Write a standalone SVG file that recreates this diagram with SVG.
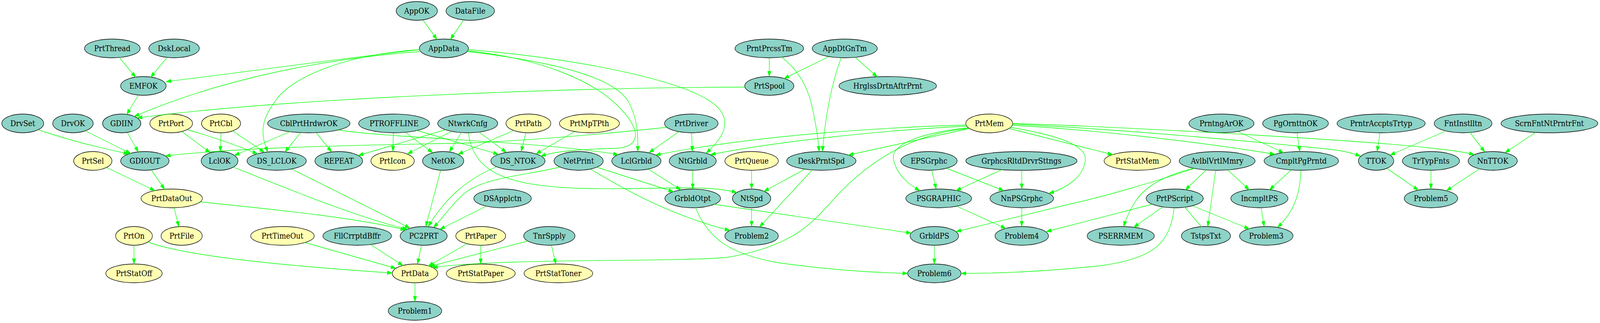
<svg xmlns="http://www.w3.org/2000/svg" width="4430" height="827" viewBox="0 0 4430 827">
<style>
.n ellipse{stroke:#000;stroke-width:1.33}
.t ellipse{fill:#8dd3c7}
.y ellipse{fill:#ffffb3}
.n text{font-family:"DejaVu Serif","Liberation Serif",serif;font-size:19.5px;text-anchor:middle;fill:#000}
#edges path{fill:none;stroke:#00ff00;stroke-width:1.33;marker-end:url(#a)}
#edges path.na{marker-end:none}
</style>
<defs>
<marker id="a" markerUnits="userSpaceOnUse" markerWidth="14" markerHeight="10" refX="13.3" refY="4.67" orient="auto" viewBox="0 0 13.3 9.33">
<path d="M0,0 L13.3,4.67 L0,9.33 z" fill="#00ff00" stroke="#00ff00" stroke-width="0.8"/>
</marker>
</defs>
<rect width="4430" height="827" fill="#fff"/>
<g id="diagram" transform="scale(0.9246 1)">
<g id="nodes">
<g id="AppOK" class="n t"><ellipse cx="1154" cy="28" rx="57" ry="24"/><text x="1154" y="35">AppOK</text></g>
<g id="DataFile" class="n t"><ellipse cx="1302" cy="28" rx="67" ry="24"/><text x="1302" y="35">DataFile</text></g>
<g id="PrtThread" class="n t"><ellipse cx="311" cy="124" rx="77" ry="24"/><text x="311" y="131">PrtThread</text></g>
<g id="DskLocal" class="n t"><ellipse cx="482" cy="124" rx="70" ry="24"/><text x="482" y="131">DskLocal</text></g>
<g id="AppData" class="n t"><ellipse cx="1229" cy="124" rx="68" ry="24"/><text x="1229" y="131">AppData</text></g>
<g id="PrntPrcssTm" class="n t"><ellipse cx="2130" cy="124" rx="95" ry="24"/><text x="2130" y="131">PrntPrcssTm</text></g>
<g id="AppDtGnTm" class="n t"><ellipse cx="2339" cy="124" rx="90" ry="24"/><text x="2339" y="131">AppDtGnTm</text></g>
<g id="EMFOK" class="n t"><ellipse cx="397" cy="220" rx="63" ry="24"/><text x="397" y="227">EMFOK</text></g>
<g id="PrtSpool" class="n t"><ellipse cx="2130" cy="220" rx="68" ry="24"/><text x="2130" y="227">PrtSpool</text></g>
<g id="HrglssDrtnAftrPrnt" class="n t"><ellipse cx="2458" cy="220" rx="135" ry="24"/><text x="2458" y="227">HrglssDrtnAftrPrnt</text></g>
<g id="DrvSet" class="n t"><ellipse cx="63" cy="316" rx="58" ry="24"/><text x="63" y="323">DrvSet</text></g>
<g id="DrvOK" class="n t"><ellipse cx="202" cy="316" rx="56" ry="24"/><text x="202" y="323">DrvOK</text></g>
<g id="GDIIN" class="n t"><ellipse cx="337" cy="316" rx="53" ry="24"/><text x="337" y="323">GDIIN</text></g>
<g id="PrtPort" class="n y"><ellipse cx="474" cy="316" rx="59" ry="24"/><text x="474" y="323">PrtPort</text></g>
<g id="PrtCbl" class="n y"><ellipse cx="612" cy="316" rx="54" ry="24"/><text x="612" y="323">PrtCbl</text></g>
<g id="CblPrtHrdwrOK" class="n t"><ellipse cx="855" cy="316" rx="114" ry="24"/><text x="855" y="323">CblPrtHrdwrOK</text></g>
<g id="PTROFFLINE" class="n t"><ellipse cx="1091" cy="316" rx="98" ry="24"/><text x="1091" y="323">PTROFFLINE</text></g>
<g id="NtwrkCnfg" class="n t"><ellipse cx="1295" cy="316" rx="83" ry="24"/><text x="1295" y="323">NtwrkCnfg</text></g>
<g id="PrtPath" class="n y"><ellipse cx="1463" cy="316" rx="62" ry="24"/><text x="1463" y="323">PrtPath</text></g>
<g id="PrtMpTPth" class="n y"><ellipse cx="1632" cy="316" rx="83" ry="24"/><text x="1632" y="323">PrtMpTPth</text></g>
<g id="PrtDriver" class="n t"><ellipse cx="1914" cy="316" rx="74" ry="24"/><text x="1914" y="323">PrtDriver</text></g>
<g id="PrtMem" class="n y"><ellipse cx="2739" cy="316" rx="65" ry="24"/><text x="2739" y="323">PrtMem</text></g>
<g id="PrntngArOK" class="n t"><ellipse cx="3382" cy="316" rx="90" ry="24"/><text x="3382" y="323">PrntngArOK</text></g>
<g id="PgOrnttnOK" class="n t"><ellipse cx="3587" cy="316" rx="91" ry="24"/><text x="3587" y="323">PgOrnttnOK</text></g>
<g id="PrntrAccptsTrtyp" class="n t"><ellipse cx="3824" cy="316" rx="122" ry="24"/><text x="3824" y="323">PrntrAccptsTrtyp</text></g>
<g id="FntInstlltn" class="n t"><ellipse cx="4051" cy="316" rx="80" ry="24"/><text x="4051" y="323">FntInstlltn</text></g>
<g id="ScrnFntNtPrntrFnt" class="n t"><ellipse cx="4290" cy="316" rx="134" ry="24"/><text x="4290" y="323">ScrnFntNtPrntrFnt</text></g>
<g id="PrtSel" class="n y"><ellipse cx="257" cy="412" rx="53" ry="24"/><text x="257" y="419">PrtSel</text></g>
<g id="GDIOUT" class="n t"><ellipse cx="401" cy="412" rx="67" ry="24"/><text x="401" y="419">GDIOUT</text></g>
<g id="LclOK" class="n t"><ellipse cx="608" cy="412" rx="51" ry="24"/><text x="608" y="419">LclOK</text></g>
<g id="DS_LCLOK" class="n t"><ellipse cx="766" cy="412" rx="82" ry="24"/><text x="766" y="419">DS_LCLOK</text></g>
<g id="REPEAT" class="n t"><ellipse cx="938" cy="412" rx="66" ry="24"/><text x="938" y="419">REPEAT</text></g>
<g id="PrtIcon" class="n y"><ellipse cx="1087" cy="412" rx="60" ry="24"/><text x="1087" y="419">PrtIcon</text></g>
<g id="NetOK" class="n t"><ellipse cx="1227" cy="412" rx="57" ry="24"/><text x="1227" y="419">NetOK</text></g>
<g id="DS_NTOK" class="n t"><ellipse cx="1434" cy="412" rx="75" ry="24"/><text x="1434" y="419">DS_NTOK</text></g>
<g id="NetPrint" class="n t"><ellipse cx="1602" cy="412" rx="68" ry="24"/><text x="1602" y="419">NetPrint</text></g>
<g id="LclGrbld" class="n t"><ellipse cx="1762" cy="412" rx="68" ry="24"/><text x="1762" y="419">LclGrbld</text></g>
<g id="NtGrbld" class="n t"><ellipse cx="1918" cy="412" rx="65" ry="24"/><text x="1918" y="419">NtGrbld</text></g>
<g id="PrtQueue" class="n y"><ellipse cx="2081" cy="412" rx="74" ry="24"/><text x="2081" y="419">PrtQueue</text></g>
<g id="DeskPrntSpd" class="n t"><ellipse cx="2274" cy="412" rx="96" ry="24"/><text x="2274" y="419">DeskPrntSpd</text></g>
<g id="EPSGrphc" class="n t"><ellipse cx="2572" cy="412" rx="78" ry="24"/><text x="2572" y="419">EPSGrphc</text></g>
<g id="GrphcsRltdDrvrSttngs" class="n t"><ellipse cx="2828" cy="412" rx="154" ry="24"/><text x="2828" y="419">GrphcsRltdDrvrSttngs</text></g>
<g id="PrtStatMem" class="n y"><ellipse cx="3149" cy="412" rx="92" ry="24"/><text x="3149" y="419">PrtStatMem</text></g>
<g id="AvlblVrtlMmry" class="n t"><ellipse cx="3370" cy="412" rx="105" ry="24"/><text x="3370" y="419">AvlblVrtlMmry</text></g>
<g id="CmpltPgPrntd" class="n t"><ellipse cx="3603" cy="412" rx="103" ry="24"/><text x="3603" y="419">CmpltPgPrntd</text></g>
<g id="TTOK" class="n t"><ellipse cx="3810" cy="412" rx="49" ry="24"/><text x="3810" y="419">TTOK</text></g>
<g id="TrTypFnts" class="n t"><ellipse cx="3962" cy="412" rx="79" ry="24"/><text x="3962" y="419">TrTypFnts</text></g>
<g id="NnTTOK" class="n t"><ellipse cx="4133" cy="412" rx="68" ry="24"/><text x="4133" y="419">NnTTOK</text></g>
<g id="PrtDataOut" class="n y"><ellipse cx="475.5" cy="508" rx="85" ry="24"/><text x="475.5" y="515">PrtDataOut</text></g>
<g id="DSApplctn" class="n t"><ellipse cx="1391.5" cy="508" rx="79.5" ry="24"/><text x="1391.5" y="515">DSApplctn</text></g>
<g id="GrbldOtpt" class="n t"><ellipse cx="1918" cy="508" rx="77" ry="24"/><text x="1918" y="515">GrbldOtpt</text></g>
<g id="NtSpd" class="n t"><ellipse cx="2081" cy="508" rx="53" ry="24"/><text x="2081" y="515">NtSpd</text></g>
<g id="PSGRAPHIC" class="n t"><ellipse cx="2599" cy="508" rx="91" ry="24"/><text x="2599" y="515">PSGRAPHIC</text></g>
<g id="NnPSGrphc" class="n t"><ellipse cx="2829" cy="508" rx="88" ry="24"/><text x="2829" y="515">NnPSGrphc</text></g>
<g id="PrtPScript" class="n t"><ellipse cx="3252.5" cy="508" rx="79" ry="24"/><text x="3252.5" y="515">PrtPScript</text></g>
<g id="IncmpltPS" class="n t"><ellipse cx="3487" cy="508" rx="79" ry="24"/><text x="3487" y="515">IncmpltPS</text></g>
<g id="Problem5" class="n t"><ellipse cx="3962" cy="508" rx="74" ry="24"/><text x="3962" y="515">Problem5</text></g>
<g id="PrtOn" class="n y"><ellipse cx="371" cy="604" rx="51" ry="24"/><text x="371" y="611">PrtOn</text></g>
<g id="PrtFile" class="n y"><ellipse cx="503" cy="604" rx="57" ry="24"/><text x="503" y="611">PrtFile</text></g>
<g id="PrtTimeOut" class="n y"><ellipse cx="782" cy="604" rx="88" ry="24"/><text x="782" y="611">PrtTimeOut</text></g>
<g id="FllCrrptdBffr" class="n t"><ellipse cx="989" cy="604" rx="95" ry="24"/><text x="989" y="611">FllCrrptdBffr</text></g>
<g id="PC2PRT" class="n t"><ellipse cx="1173" cy="604" rx="65" ry="24"/><text x="1173" y="611">PC2PRT</text></g>
<g id="PrtPaper" class="n y"><ellipse cx="1331" cy="604" rx="69" ry="24"/><text x="1331" y="611">PrtPaper</text></g>
<g id="TnrSpply" class="n t"><ellipse cx="1521" cy="604" rx="71" ry="24"/><text x="1521" y="611">TnrSpply</text></g>
<g id="Problem2" class="n t"><ellipse cx="2081" cy="604" rx="74" ry="24"/><text x="2081" y="611">Problem2</text></g>
<g id="GrbldPS" class="n t"><ellipse cx="2587" cy="604" rx="67" ry="24"/><text x="2587" y="611">GrbldPS</text></g>
<g id="Problem4" class="n t"><ellipse cx="2829" cy="604" rx="74" ry="24"/><text x="2829" y="611">Problem4</text></g>
<g id="PSERRMEM" class="n t"><ellipse cx="3103" cy="604" rx="93" ry="24"/><text x="3103" y="611">PSERRMEM</text></g>
<g id="TstpsTxt" class="n t"><ellipse cx="3339" cy="604" rx="68" ry="24"/><text x="3339" y="611">TstpsTxt</text></g>
<g id="Problem3" class="n t"><ellipse cx="3506" cy="604" rx="74" ry="24"/><text x="3506" y="611">Problem3</text></g>
<g id="PrtStatOff" class="n y"><ellipse cx="371" cy="700" rx="78" ry="24"/><text x="371" y="707">PrtStatOff</text></g>
<g id="PrtData" class="n y"><ellipse cx="1149" cy="700" rx="63" ry="24"/><text x="1149" y="707">PrtData</text></g>
<g id="PrtStatPaper" class="n y"><ellipse cx="1331" cy="700" rx="95.5" ry="24"/><text x="1331" y="707">PrtStatPaper</text></g>
<g id="PrtStatToner" class="n y"><ellipse cx="1546" cy="700" rx="95" ry="24"/><text x="1546" y="707">PrtStatToner</text></g>
<g id="Problem6" class="n t"><ellipse cx="2587" cy="700" rx="74" ry="24"/><text x="2587" y="707">Problem6</text></g>
<g id="Problem1" class="n t"><ellipse cx="1149" cy="796" rx="74" ry="24"/><text x="1149" y="803">Problem1</text></g>
</g>
<g id="edges">
<path d="M332,149 L376,198"/>
<path d="M461,149 L417,198"/>
<path d="M1162,127 C900,155 700,182 460,209"/>
<path d="M1162,132 C900,150 620,200 372,298"/>
<path d="M382,245 L351,293"/>
<path d="M2062,223 C1600,224 800,250 380,302"/>
<path d="M108,333 Q220,368 356,394"/>
<path d="M238,336 L362,393"/>
<path d="M353,340 L383,389"/>
<path d="M1846,326 C1650,345 1450,360 1300,366 C1000,372 700,375 458,399"/>
<path d="M504,337 L582,391"/>
<path d="M519,332 Q630,362 713,394"/>
<path d="M612,340 L610,388"/>
<path d="M644,335 L732,390"/>
<path d="M803,337 L649,398"/>
<path d="M1162,127 C950,140 800,200 760,262 C720,310 722,350 742,389"/>
<path d="M832,340 L789,389"/>
<path d="M876,340 L918,389"/>
<path d="M936,333 C1100,355 1500,362 1712,396"/>
<path d="M1089,340 L1088,388"/>
<path d="M1123,339 L1198,391"/>
<path d="M1154,334 L1380,395"/>
<path d="M1234,332 L992,398"/>
<path d="M1251,336 L1128,394"/>
<path d="M1278,339 L1244,389"/>
<path d="M1326,338 L1402,390"/>
<path d="M1297,340 C1310,440 1400,475 1600,482 C1800,488 1950,470 2040,493"/>
<path d="M1423,334 L1268,395"/>
<path d="M1456,340 L1443,388"/>
<path d="M1591,337 L1484,394"/>
<path d="M1295,130 C1480,148 1640,200 1720,280 C1780,340 1770,378 1700,380 C1620,382 1540,386 1497,400"/>
<path d="M1295,132 C1550,160 1700,200 1740,260 C1768,310 1766,350 1766,388"/>
<path d="M1296,127 C1600,150 1850,200 1950,250 C2030,290 2020,340 1955,392"/>
<path d="M1880,337 L1797,391"/>
<path d="M1915,340 L1917,388"/>
<path d="M2676,320 C2450,326 2100,345 1815,397"/>
<path d="M2676,323 C2450,333 2150,362 1967,396"/>
<path d="M2684,329 L2349,397"/>
<path d="M2680,327 C2550,340 2460,370 2475,412 C2485,450 2520,475 2547,488"/>
<path d="M2682,329 C2540,340 2420,400 2317,501 C2250,570 2200,630 2013,659 C1850,672 1400,660 1198,685"/>
<path d="M2798,326 C2920,345 3010,370 3005,410 C3000,450 2960,480 2904,495"/>
<path d="M2794,329 L3081,396"/>
<path d="M2803,321 C3000,330 3300,360 3530,395"/>
<path d="M2804,318 C3100,330 3500,365 3680,382 C3720,386 3745,392 3767,400"/>
<path d="M2804,316 C3200,328 3800,362 3950,378 C4010,384 4050,388 4082,396"/>
<path d="M2081,436 L2081,484"/>
<path d="M2229,433 L2115,490"/>
<path d="M2249,435 L2103,581"/>
<path d="M2081,532 L2081,580"/>
<path d="M1795,433 L1885,486"/>
<path d="M1918,436 L1918,484"/>
<path d="M1652,428 L1865,491"/>
<path d="M1635,433 C1720,480 1850,550 2021,590"/>
<path d="M1550,428 C1450,450 1330,455 1280,500 C1240,535 1225,560 1200,582"/>
<path d="M1220,436 L1179,580"/>
<path d="M1375,427 C1290,460 1230,510 1186,580"/>
<path d="M1346,528 L1218,587"/>
<path d="M647,428 C800,485 1000,560 1128,587"/>
<path d="M808,433 L1135,584"/>
<path d="M555,517 C800,540 1000,560 1123,589"/>
<path d="M295,429 L429,488"/>
<path d="M419,435 L456,485"/>
<path d="M482,532 L495,580"/>
<path d="M371,628 L371,676"/>
<path d="M410,620 C500,650 700,675 1086,699"/>
<path d="M844,621 L1096,687"/>
<path d="M1026,626 L1116,680"/>
<path d="M1167,628 L1156,676"/>
<path d="M1293,624 L1186,681"/>
<path d="M1462,617 L1190,682"/>
<path d="M1331,628 L1331,676"/>
<path d="M1527,628 L1539,676"/>
<path d="M1149,724 L1149,772"/>
<path d="M1171,51 L1210,101"/>
<path d="M1284,51 L1247,101"/>
<path d="M2130,148 L2130,196"/>
<path d="M2295,145 L2171,201"/>
<path d="M2164,146 C2200,172 2230,210 2245,260 C2258,310 2265,350 2268,388"/>
<path d="M2329,148 C2300,220 2285,300 2277,388"/>
<path d="M2368,147 L2429,197"/>
<path d="M2580,436 L2592,484"/>
<path d="M2621,431 L2779,488"/>
<path d="M2775,434 L2647,488"/>
<path d="M2829,436 L2829,484"/>
<path d="M2649,528 L2785,585"/>
<path d="M2829,532 L2829,580"/>
<path d="M2587,628 L2587,676"/>
<path d="M1977,523 L2523,597"/>
<path d="M1926,532 C1960,610 2020,650 2150,672 C2300,692 2420,698 2513,700"/>
<path d="M3307,431 C3200,465 3050,505 2960,523 C2850,548 2750,570 2647,593"/>
<path d="M3304,431 C3180,460 3140,500 3111,580"/>
<path d="M3340,435 L3282,486"/>
<path d="M3366,436 L3344,580"/>
<path d="M3399,435 L3459,486"/>
<path d="M3575,435 L3515,486"/>
<path d="M3602,436 C3600,500 3580,545 3537,582"/>
<path d="M3428,337 L3554,391"/>
<path d="M3591,340 L3599,388"/>
<path d="M3219,530 L3139,582"/>
<path class="na" d="M3280,530 L3327,581"/>
<path d="M3302,527 L3459,586"/>
<path d="M3492,532 L3500,580"/>
<path d="M3251,532 C3240,620 3200,660 3050,680 C2900,695 2780,700 2661,700"/>
<path d="M3190,523 L2897,593"/>
<path d="M3821,340 L3813,388"/>
<path d="M4004,335 L3849,397"/>
<path d="M4070,339 L4111,389"/>
<path d="M4252,339 L4167,391"/>
<path d="M3840,431 L3927,487"/>
<path d="M3962,436 L3962,484"/>
<path d="M4097,432 L4005,488"/>
</g>
</g>
</svg>
